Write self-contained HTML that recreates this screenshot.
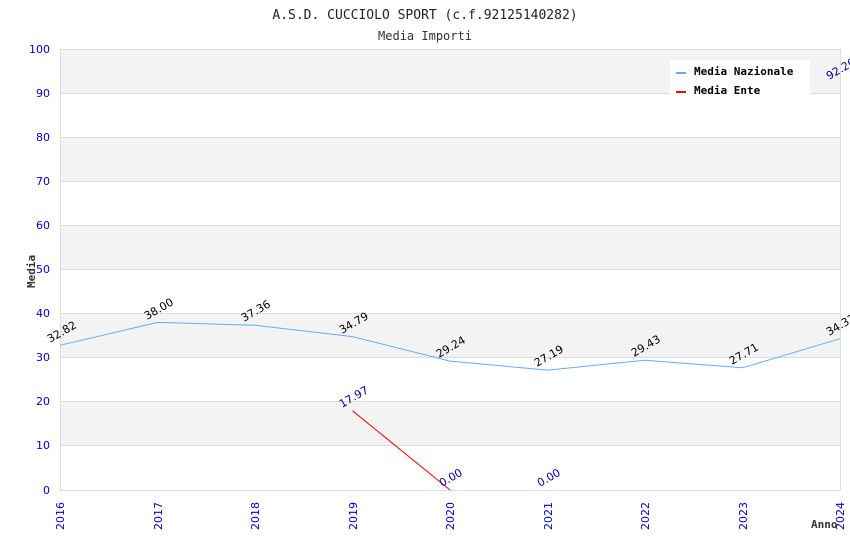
<!DOCTYPE html>
<html><head><meta charset="utf-8"><style>body{margin:0;background:#fff}svg{display:block}</style></head>
<body>
<svg width="850" height="550" xmlns="http://www.w3.org/2000/svg" font-family="DejaVu Sans, sans-serif">
<rect width="850" height="550" fill="#fff"/>
<text x="425" y="19" text-anchor="middle" font-family="DejaVu Sans Mono, Liberation Mono, monospace" font-size="13" fill="#222">A.S.D. CUCCIOLO SPORT (c.f.92125140282)</text>
<text x="425" y="40" text-anchor="middle" font-family="DejaVu Sans Mono, Liberation Mono, monospace" font-size="12" fill="#333">Media Importi</text>
<g fill="#f3f3f3">
<rect x="60" y="49" width="780" height="44.1"/>
<rect x="60" y="137.2" width="780" height="44.1"/>
<rect x="60" y="225.4" width="780" height="44.1"/>
<rect x="60" y="313.6" width="780" height="44.1"/>
<rect x="60" y="401.8" width="780" height="44.1"/>
</g>
<g stroke="#ddd" stroke-width="1">
<line x1="60" y1="49.5" x2="840" y2="49.5"/><line x1="60" y1="93.5" x2="840" y2="93.5"/><line x1="60" y1="137.5" x2="840" y2="137.5"/><line x1="60" y1="181.5" x2="840" y2="181.5"/><line x1="60" y1="225.5" x2="840" y2="225.5"/><line x1="60" y1="269.5" x2="840" y2="269.5"/><line x1="60" y1="313.5" x2="840" y2="313.5"/><line x1="60" y1="357.5" x2="840" y2="357.5"/><line x1="60" y1="401.5" x2="840" y2="401.5"/><line x1="60" y1="445.5" x2="840" y2="445.5"/><line x1="60" y1="490.5" x2="840" y2="490.5"/>
<line x1="60.5" y1="49" x2="60.5" y2="490"/><line x1="840.5" y1="49" x2="840.5" y2="490"/>
</g>
<g fill="#00c" font-size="11" text-anchor="end">
<text x="50" y="53">100</text><text x="50" y="97">90</text><text x="50" y="141">80</text><text x="50" y="185">70</text><text x="50" y="229">60</text><text x="50" y="273">50</text><text x="50" y="317">40</text><text x="50" y="361">30</text><text x="50" y="405">20</text><text x="50" y="449">10</text><text x="50" y="494">0</text>
</g>
<g fill="#00c" font-size="11">
<text transform="translate(64,530) rotate(-90)">2016</text><text transform="translate(162,530) rotate(-90)">2017</text><text transform="translate(259,530) rotate(-90)">2018</text><text transform="translate(357,530) rotate(-90)">2019</text><text transform="translate(454,530) rotate(-90)">2020</text><text transform="translate(552,530) rotate(-90)">2021</text><text transform="translate(649,530) rotate(-90)">2022</text><text transform="translate(747,530) rotate(-90)">2023</text><text transform="translate(844,530) rotate(-90)">2024</text>
</g>
<text transform="translate(35,288) rotate(-90)" font-family="DejaVu Sans Mono, monospace" font-weight="bold" font-size="11" fill="#333">Media</text>
<text x="811" y="528" font-family="DejaVu Sans Mono, monospace" font-weight="bold" font-size="11" fill="#333">Anno</text>
<polyline fill="none" stroke="#6af" stroke-width="1" points="60,345.3 157.5,322.4 255,325.2 352.5,336.6 450,361.1 547.5,370.1 645,360.2 742.5,367.8 840,338.7"/>
<line x1="352.5" y1="410.8" x2="450" y2="490" stroke="#f00" stroke-width="1"/>
<g font-size="11" fill="#000">
<text transform="translate(50,343) rotate(-30)">32.82</text>
<text transform="translate(147,320) rotate(-30)">38.00</text>
<text transform="translate(244,322) rotate(-30)">37.36</text>
<text transform="translate(342,334) rotate(-30)">34.79</text>
<text transform="translate(439,358) rotate(-30)">29.24</text>
<text transform="translate(537,367) rotate(-30)">27.19</text>
<text transform="translate(634,357) rotate(-30)">29.43</text>
<text transform="translate(732,365) rotate(-30)">27.71</text>
<text transform="translate(829,336) rotate(-30)">34.32</text>
</g>
<g font-size="11" fill="#009">
<text transform="translate(342,408) rotate(-30)">17.97</text>
<text transform="translate(442,487) rotate(-30)">0.00</text>
<text transform="translate(540,487) rotate(-30)">0.00</text>
<text transform="translate(829,80) rotate(-30)">92.20</text>
</g>
<rect x="670" y="60" width="140" height="36" fill="#fff"/>
<rect x="676" y="72" width="10" height="2" fill="#6af"/>
<rect x="676" y="91" width="10" height="2" fill="#f00"/>
<g font-family="DejaVu Sans Mono, monospace" font-weight="bold" font-size="11" fill="#000">
<text x="694" y="75">Media Nazionale</text><text x="694" y="94">Media Ente</text>
</g>
</svg>
</body></html>
